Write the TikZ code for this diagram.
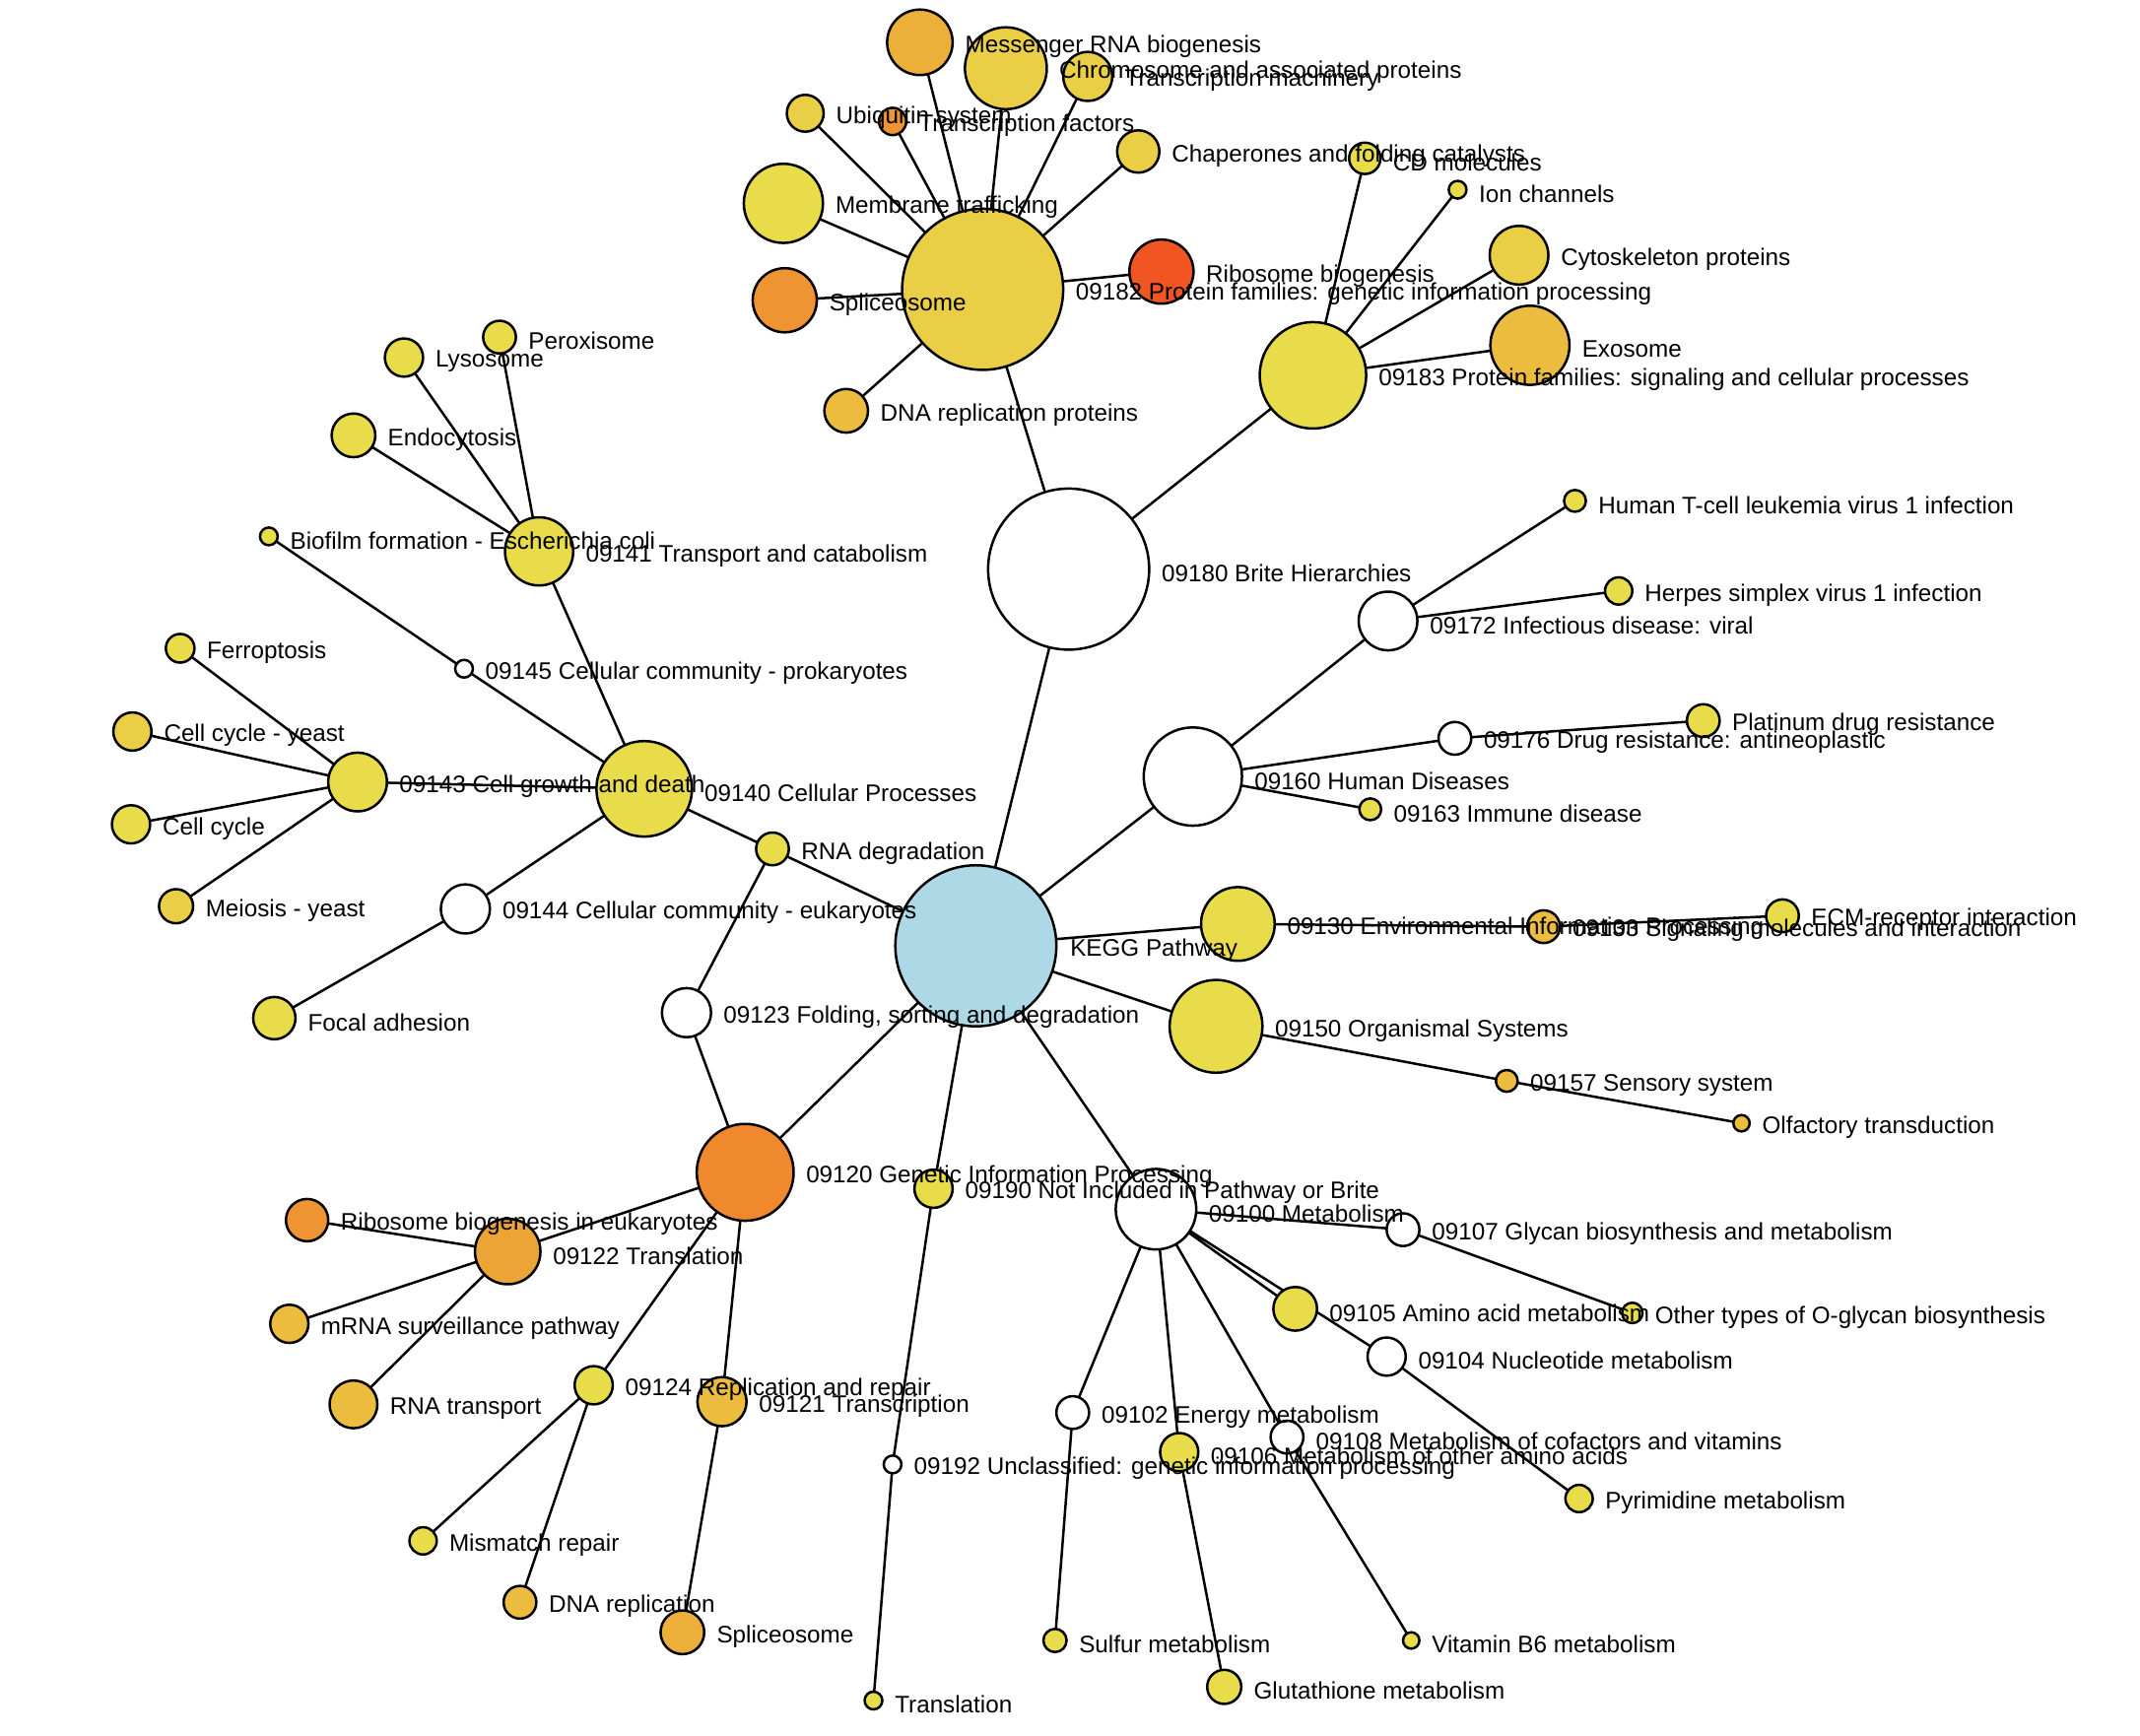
\documentclass[tikz,border=0pt]{standalone}
\usepackage{fontspec}
\setmainfont{Liberation Sans}
\usepackage{xcolor}
\usetikzlibrary{positioning,backgrounds}
\definecolor{keggBlue}{RGB}{173, 216, 230}
\definecolor{keggYellow}{RGB}{232, 220, 74}
\definecolor{keggGold}{RGB}{233, 206, 70}
\definecolor{keggOchre}{RGB}{235, 188, 62}
\definecolor{keggAmber}{RGB}{236, 176, 58}
\definecolor{keggTan}{RGB}{236, 164, 54}
\definecolor{keggOrange}{RGB}{238, 148, 51}
\definecolor{keggDeep}{RGB}{240, 137, 46}
\definecolor{keggRed}{RGB}{241, 86, 34}
\newcommand{\lblfont}{\fontsize{17.5}{20}\selectfont}

\begin{document}
\begin{tikzpicture}[x=1pt, y=-1pt,
    kn/.style={circle, draw=black, line width=1.8pt, inner sep=0pt, outer sep=0pt, minimum size=#1},
    lbl/.style={inner sep=0pt, font=\lblfont, text=black, yshift=-3pt},
    edge/.style={line width=1.8pt}]
    \useasboundingbox (0,0) rectangle (1568,1272);

    % root and first level
    \node[kn=118, fill=keggBlue] (kegg) at (715,693) {};
    \node[kn=118, fill=white] (brite) at (783,417) {};
    \node[kn=70, fill=keggYellow] (cellproc) at (472,578) {};
    \node[kn=71, fill=keggDeep] (genetic) at (546,859) {};
    \node[kn=28, fill=keggYellow] (notincl) at (684,871) {};
    \node[kn=59, fill=white] (metab) at (847,886) {};
    \node[kn=68, fill=keggYellow] (organ) at (891,752) {};
    \node[kn=54, fill=keggYellow] (envir) at (907,677) {};
    \node[kn=72, fill=white] (disease) at (874,569) {};

    % brite hierarchies
    \node[kn=118, fill=keggGold] (pfgen) at (720,212) {};
    \node[kn=78, fill=keggYellow] (pfsig) at (962,275) {};
    \node[kn=48, fill=keggAmber] (mrna) at (674,31) {};
    \node[kn=60, fill=keggGold] (chrom) at (737,50) {};
    \node[kn=36, fill=keggGold] (tmach) at (797,56) {};
    \node[kn=27, fill=keggGold] (ubiq) at (590,83) {};
    \node[kn=20, fill=keggOrange] (tfac) at (654,89) {};
    \node[kn=31, fill=keggGold] (chap) at (834,111) {};
    \node[kn=58, fill=keggYellow] (memb) at (574,149) {};
    \node[kn=47, fill=keggRed] (ribo) at (851,199) {};
    \node[kn=47, fill=keggOrange] (splA) at (575,220) {};
    \node[kn=32, fill=keggOchre] (dnarp) at (620,301) {};
    \node[kn=23, fill=keggYellow] (cdmol) at (1000,116) {};
    \node[kn=13, fill=keggYellow] (ionch) at (1068,139) {};
    \node[kn=43, fill=keggGold] (cytosk) at (1113,187) {};
    \node[kn=58, fill=keggOchre] (exos) at (1121,253) {};

    % cellular processes
    \node[kn=50, fill=keggYellow] (transp) at (395,404) {};
    \node[kn=13, fill=white] (prok) at (340,490) {};
    \node[kn=43, fill=keggYellow] (growth) at (262,573) {};
    \node[kn=36, fill=white] (euk) at (341,666) {};
    \node[kn=24, fill=keggYellow] (perox) at (366,247) {};
    \node[kn=28, fill=keggYellow] (lysos) at (296,262) {};
    \node[kn=32, fill=keggYellow] (endoc) at (259,319) {};
    \node[kn=13, fill=keggYellow] (biofilm) at (197,393) {};
    \node[kn=21, fill=keggYellow] (ferro) at (132,475) {};
    \node[kn=28, fill=keggGold] (ccyeast) at (97,536) {};
    \node[kn=28, fill=keggYellow] (ccycle) at (96,604) {};
    \node[kn=25, fill=keggGold] (meiosis) at (129,664) {};
    \node[kn=31, fill=keggYellow] (focal) at (201,746) {};

    % genetic information processing
    \node[kn=36, fill=white] (fold) at (503,742) {};
    \node[kn=24, fill=keggYellow] (rnadeg) at (566,622) {};
    \node[kn=48, fill=keggTan] (transl) at (372,917) {};
    \node[kn=31, fill=keggOrange] (ribeuk) at (225,894) {};
    \node[kn=28, fill=keggOchre] (mrnasv) at (212,970) {};
    \node[kn=35, fill=keggOchre] (rnatr) at (259,1029) {};
    \node[kn=28, fill=keggYellow] (repl) at (435,1015) {};
    \node[kn=20, fill=keggYellow] (mism) at (310,1129) {};
    \node[kn=24, fill=keggOchre] (dnarep) at (381,1174) {};
    \node[kn=36, fill=keggOchre] (transc) at (529,1027) {};
    \node[kn=32, fill=keggAmber] (splB) at (500,1196) {};
    \node[kn=13, fill=white] (unclass) at (654,1073) {};
    \node[kn=13, fill=keggYellow] (translB) at (640,1246) {};

    % metabolism
    \node[kn=24, fill=white] (glycan) at (1028,901) {};
    \node[kn=15, fill=keggYellow] (oglyc) at (1196,962) {};
    \node[kn=32, fill=keggYellow] (amino) at (949,959) {};
    \node[kn=28, fill=white] (nucl) at (1016,994) {};
    \node[kn=20, fill=keggYellow] (pyrim) at (1157,1098) {};
    \node[kn=24, fill=white] (cofac) at (943,1053) {};
    \node[kn=12, fill=keggYellow] (vitb6) at (1034,1202) {};
    \node[kn=28, fill=keggYellow] (othaa) at (864,1064) {};
    \node[kn=25, fill=keggYellow] (gluta) at (897,1236) {};
    \node[kn=24, fill=white] (energy) at (786,1035) {};
    \node[kn=17, fill=keggYellow] (sulfur) at (773,1202) {};

    % diseases, environment, organismal
    \node[kn=43, fill=white] (viral) at (1017,455) {};
    \node[kn=16, fill=keggYellow] (htlv) at (1154,367) {};
    \node[kn=20, fill=keggYellow] (herpes) at (1186,433) {};
    \node[kn=24, fill=white] (drug) at (1066,541) {};
    \node[kn=24, fill=keggYellow] (plat) at (1248,528) {};
    \node[kn=16, fill=keggYellow] (immune) at (1004,593) {};
    \node[kn=24, fill=keggOchre] (signal) at (1131,679) {};
    \node[kn=24, fill=keggYellow] (ecm) at (1306,671) {};
    \node[kn=16, fill=keggOchre] (sensory) at (1104,792) {};
    \node[kn=12, fill=keggOchre] (olfac) at (1276,823) {};

    % connectors behind the circles
    \begin{scope}[on background layer]
        \draw[edge] (kegg) -- (brite) (kegg) -- (cellproc) (kegg) -- (genetic) (kegg) -- (notincl)
            (kegg) -- (metab) (kegg) -- (organ) (kegg) -- (envir) (kegg) -- (disease);
        \draw[edge] (brite) -- (pfgen) (brite) -- (pfsig);
        \draw[edge] (pfgen) -- (mrna) (pfgen) -- (chrom) (pfgen) -- (tmach) (pfgen) -- (ubiq)
            (pfgen) -- (tfac) (pfgen) -- (chap) (pfgen) -- (memb) (pfgen) -- (ribo)
            (pfgen) -- (splA) (pfgen) -- (dnarp);
        \draw[edge] (pfsig) -- (cdmol) (pfsig) -- (ionch) (pfsig) -- (cytosk) (pfsig) -- (exos);
        \draw[edge] (cellproc) -- (transp) (cellproc) -- (prok) (cellproc) -- (growth) (cellproc) -- (euk);
        \draw[edge] (transp) -- (perox) (transp) -- (lysos) (transp) -- (endoc) (prok) -- (biofilm);
        \draw[edge] (growth) -- (ferro) (growth) -- (ccyeast) (growth) -- (ccycle) (growth) -- (meiosis);
        \draw[edge] (euk) -- (focal);
        \draw[edge] (genetic) -- (fold) (fold) -- (rnadeg);
        \draw[edge] (genetic) -- (transl) (transl) -- (ribeuk) (transl) -- (mrnasv) (transl) -- (rnatr);
        \draw[edge] (genetic) -- (repl) (repl) -- (mism) (repl) -- (dnarep);
        \draw[edge] (genetic) -- (transc) (transc) -- (splB);
        \draw[edge] (notincl) -- (unclass) (unclass) -- (translB);
        \draw[edge] (metab) -- (glycan) (glycan) -- (oglyc) (metab) -- (amino)
            (metab) -- (nucl) (nucl) -- (pyrim) (metab) -- (cofac) (cofac) -- (vitb6)
            (metab) -- (othaa) (othaa) -- (gluta) (metab) -- (energy) (energy) -- (sulfur);
        \draw[edge] (disease) -- (viral) (viral) -- (htlv) (viral) -- (herpes)
            (disease) -- (drug) (drug) -- (plat) (disease) -- (immune);
        \draw[edge] (envir) -- (signal) (signal) -- (ecm);
        \draw[edge] (organ) -- (sensory) (sensory) -- (olfac);
    \end{scope}

    % labels on top of everything
    \node[lbl, right=10pt of kegg] (t-kegg) {KEGG Pathway};
    \node[lbl, right=9pt of brite] (t-brite) {09180 Brite Hierarchies};
    \node[lbl, right=9pt of cellproc] (t-cellproc) {09140 Cellular Processes};
    \node[lbl, right=9pt of genetic] (t-genetic) {09120 Genetic Information Processing};
    \node[lbl, right=9pt of notincl] (t-notincl) {09190 Not Included in Pathway or Brite};
    \node[lbl, right=9pt of metab] (t-metab) {09100 Metabolism};
    \node[lbl, right=9pt of organ] (t-organ) {09150 Organismal Systems};
    \node[lbl, right=9pt of envir] (t-envir) {09130 Environmental Information Processing};
    \node[lbl, right=9pt of disease] (t-disease) {09160 Human Diseases};

    \node[lbl, right=9pt of pfgen] (t-pfgen) {09182 Protein families: genetic information processing};
    \node[lbl, right=9pt of pfsig] (t-pfsig) {09183 Protein families: signaling and cellular processes};
    \node[lbl, right=9pt of mrna] (t-mrna) {Messenger RNA biogenesis};
    \node[lbl, right=9pt of chrom] (t-chrom) {Chromosome and associated proteins};
    \node[lbl, right=9pt of tmach] (t-tmach) {Transcription machinery};
    \node[lbl, right=9pt of ubiq] (t-ubiq) {Ubiquitin system};
    \node[lbl, right=9pt of tfac] (t-tfac) {Transcription factors};
    \node[lbl, right=9pt of chap] (t-chap) {Chaperones and folding catalysts};
    \node[lbl, right=9pt of memb] (t-memb) {Membrane trafficking};
    \node[lbl, right=9pt of ribo] (t-ribo) {Ribosome biogenesis};
    \node[lbl, right=9pt of splA] (t-splA) {Spliceosome};
    \node[lbl, right=9pt of dnarp] (t-dnarp) {DNA replication proteins};
    \node[lbl, right=9pt of cdmol] (t-cdmol) {CD molecules};
    \node[lbl, right=9pt of ionch] (t-ionch) {Ion channels};
    \node[lbl, right=9pt of cytosk] (t-cytosk) {Cytoskeleton proteins};
    \node[lbl, right=9pt of exos] (t-exos) {Exosome};

    \node[lbl, right=9pt of transp] (t-transp) {09141 Transport and catabolism};
    \node[lbl, right=9pt of prok] (t-prok) {09145 Cellular community - prokaryotes};
    \node[lbl, right=9pt of growth] (t-growth) {09143 Cell growth and death};
    \node[lbl, right=9pt of euk] (t-euk) {09144 Cellular community - eukaryotes};
    \node[lbl, right=9pt of perox] (t-perox) {Peroxisome};
    \node[lbl, right=9pt of lysos] (t-lysos) {Lysosome};
    \node[lbl, right=9pt of endoc] (t-endoc) {Endocytosis};
    \node[lbl, right=9pt of biofilm] (t-biofilm) {Biofilm formation - Escherichia coli};
    \node[lbl, right=9pt of ferro] (t-ferro) {Ferroptosis};
    \node[lbl, right=9pt of ccyeast] (t-ccyeast) {Cell cycle - yeast};
    \node[lbl, right=9pt of ccycle] (t-ccycle) {Cell cycle};
    \node[lbl, right=9pt of meiosis] (t-meiosis) {Meiosis - yeast};
    \node[lbl, right=9pt of focal] (t-focal) {Focal adhesion};

    \node[lbl, right=9pt of fold] (t-fold) {09123 Folding, sorting and degradation};
    \node[lbl, right=9pt of rnadeg] (t-rnadeg) {RNA degradation};
    \node[lbl, right=9pt of transl] (t-transl) {09122 Translation};
    \node[lbl, right=9pt of ribeuk] (t-ribeuk) {Ribosome biogenesis in eukaryotes};
    \node[lbl, right=9pt of mrnasv] (t-mrnasv) {mRNA surveillance pathway};
    \node[lbl, right=9pt of rnatr] (t-rnatr) {RNA transport};
    \node[lbl, right=9pt of repl] (t-repl) {09124 Replication and repair};
    \node[lbl, right=9pt of mism] (t-mism) {Mismatch repair};
    \node[lbl, right=9pt of dnarep] (t-dnarep) {DNA replication};
    \node[lbl, right=9pt of transc] (t-transc) {09121 Transcription};
    \node[lbl, right=9pt of splB] (t-splB) {Spliceosome};
    \node[lbl, right=9pt of unclass] (t-unclass) {09192 Unclassified: genetic information processing};
    \node[lbl, right=9pt of translB] (t-translB) {Translation};

    \node[lbl, right=9pt of glycan] (t-glycan) {09107 Glycan biosynthesis and metabolism};
    \node[lbl, right=9pt of oglyc] (t-oglyc) {Other types of O-glycan biosynthesis};
    \node[lbl, right=9pt of amino] (t-amino) {09105 Amino acid metabolism};
    \node[lbl, right=9pt of nucl] (t-nucl) {09104 Nucleotide metabolism};
    \node[lbl, right=9pt of pyrim] (t-pyrim) {Pyrimidine metabolism};
    \node[lbl, right=9pt of cofac] (t-cofac) {09108 Metabolism of cofactors and vitamins};
    \node[lbl, right=9pt of vitb6] (t-vitb6) {Vitamin B6 metabolism};
    \node[lbl, right=9pt of othaa] (t-othaa) {09106 Metabolism of other amino acids};
    \node[lbl, right=9pt of gluta] (t-gluta) {Glutathione metabolism};
    \node[lbl, right=9pt of energy] (t-energy) {09102 Energy metabolism};
    \node[lbl, right=9pt of sulfur] (t-sulfur) {Sulfur metabolism};

    \node[lbl, right=9pt of viral] (t-viral) {09172 Infectious disease: viral};
    \node[lbl, right=9pt of htlv] (t-htlv) {Human T-cell leukemia virus 1 infection};
    \node[lbl, right=9pt of herpes] (t-herpes) {Herpes simplex virus 1 infection};
    \node[lbl, right=9pt of drug] (t-drug) {09176 Drug resistance: antineoplastic};
    \node[lbl, right=9pt of plat] (t-plat) {Platinum drug resistance};
    \node[lbl, right=9pt of immune] (t-immune) {09163 Immune disease};
    \node[lbl, right=9pt of signal] (t-signal) {09133 Signaling molecules and interaction};
    \node[lbl, right=9pt of ecm] (t-ecm) {ECM-receptor interaction};
    \node[lbl, right=9pt of sensory] (t-sensory) {09157 Sensory system};
    \node[lbl, right=9pt of olfac] (t-olfac) {Olfactory transduction};
\end{tikzpicture}
\end{document}
